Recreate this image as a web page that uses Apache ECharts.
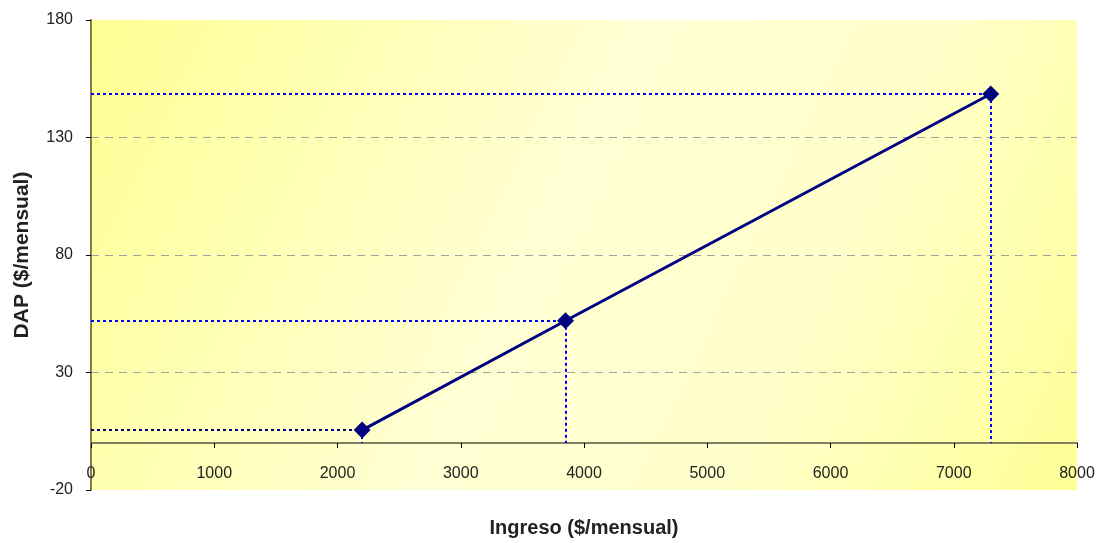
<!DOCTYPE html>
<html>
<head>
<meta charset="utf-8">
<script src="https://cdn.jsdelivr.net/npm/echarts@6/dist/echarts.min.js"></script>
<style>html,body{margin:0;padding:0;background:#fff}#c{width:1100px;height:543px}</style>
</head>
<body>
<div id="c"></div>
<script>
var ingreso = [2200, 3850, 7300];
var dap = [5.5, 52, 148.5];
var xTicks = [0, 1000, 2000, 3000, 4000, 5000, 6000, 7000, 8000];
var yTicks = [-20, 30, 80, 130, 180];
var hLineColors = ['#000080', '#0000ff', '#0000ff'];

var points = ingreso.map(function (x, i) { return [x, dap[i]]; });
var drops = [];
points.forEach(function (p, i) {
  drops.push([{ coord: [0, p[1]], lineStyle: { color: hLineColors[i] } }, { coord: [p[0], p[1]] }]);
  drops.push([{ coord: [p[0], p[1]], lineStyle: { color: '#0000ff' } }, { coord: [p[0], 0] }]);
});

var FONT = '"Liberation Sans", Arial, sans-serif';
var chart = echarts.init(document.getElementById('c'));
chart.setOption({
  animation: false,
  textStyle: { fontFamily: FONT },
  grid: {
    left: 91, right: 23, top: 20, bottom: 53,
    containLabel: false, outerBoundsMode: 'none',
    show: true, borderWidth: 0,
    backgroundColor: {
      type: 'linear', x: 0, y: 0, x2: 1, y2: 1,
      colorStops: [
        { offset: 0, color: '#ffff94' },
        { offset: 0.45, color: '#ffffd4' },
        { offset: 0.7, color: '#ffffcc' },
        { offset: 1, color: '#ffff96' }
      ]
    }
  },
  xAxis: {
    type: 'value', min: xTicks[0], max: xTicks[xTicks.length - 1], interval: 1000,
    name: 'Ingreso ($/mensual)', nameLocation: 'middle', nameGap: 28,
    nameTextStyle: { fontSize: 20, fontWeight: 'bold', color: '#222', fontFamily: FONT },
    axisLine: { onZero: true, lineStyle: { color: '#808060', width: 2 } },
    axisTick: { show: true, length: 5, lineStyle: { color: '#000' } },
    axisLabel: { fontSize: 16, color: '#222', margin: -24, showMaxLabel: true, showMinLabel: true,
      fontFamily: FONT, formatter: function (v) { return String(v); } },
    splitLine: { show: false }
  },
  yAxis: {
    type: 'value', min: yTicks[0], max: yTicks[yTicks.length - 1], interval: 50,
    name: 'DAP ($/mensual)', nameLocation: 'middle', nameGap: 58, nameRotate: 90,
    nameTextStyle: { fontSize: 21, fontWeight: 'bold', color: '#222', fontFamily: FONT },
    axisLine: { show: true, onZero: false, lineStyle: { color: '#808040', width: 2 } },
    axisTick: { show: true, length: 5, lineStyle: { color: '#000' } },
    axisLabel: { fontSize: 16, color: '#222', margin: 18, fontFamily: FONT,
      formatter: function (v) { return String(v); } },
    splitLine: {
      show: true,
      lineStyle: { color: '#a0a0a0', type: [8, 6], width: 1 },
      showMinLine: false, showMaxLine: false
    }
  },
  series: [{
    type: 'line',
    data: points,
    symbol: 'diamond',
    symbolSize: 17,
    itemStyle: { color: '#000080' },
    lineStyle: { color: '#000080', width: 3 },
    z: 5,
    markLine: {
      silent: true,
      symbol: ['none', 'none'],
      label: { show: false },
      lineStyle: { type: [3, 3], width: 2 },
      z: 3,
      data: drops
    }
  }]
});
</script>
</body>
</html>
